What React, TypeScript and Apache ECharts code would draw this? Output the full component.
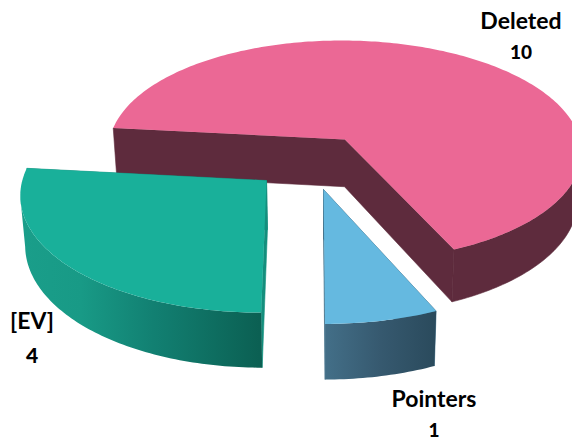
import React, { useEffect, useRef } from "react";
import * as echarts from "echarts";

const categories = ["Deleted", "Pointers", "[EV]"];
const values = [10, 1, 4];

// Styling and layout, indexed in category order
const topColors = ["#EB6895", "#65B9E0", "#19B09A"];
const innerColors = ["#5E2B3D", "#3F6F88", "#148F7D"];
const wallStops: [number, string][][] = [
  [[0, "#5E2B3D"], [1, "#5E2B3D"]],
  [[0, "#436F88"], [0.5, "#36596F"], [1, "#2A4A5C"]],
  [[0, "#1A9E8A"], [0.25, "#189A86"], [0.55, "#128072"], [1, "#0B5F52"]],
];
const labelAnchors = [
  { x: 521, y: 20, vy: 51 },
  { x: 434, y: 398, vy: 429 },
  { x: 32, y: 320, vy: 354 },
];

// Projection of the tilted pie plane on the page
const START_DEG = 276;
const CX = 311, CY = 161.5, F = 240, G = 113.8, P = 0.106;
const EXPLODE = 0.245, DEPTH = 48.3, VX = 325, VK = 0.016;
const FONT = "Lato, 'Open Sans', sans-serif";

type Pt = [number, number];

function project(px: number, py: number, z: number): Pt {
  const s = 1 / (1 + P * py);
  const x = CX + F * px * s;
  const y = CY - G * py * s + DEPTH * s * z;
  return [x + (VX - x) * VK * z, y];
}

function renderSlice(params: any, api: any) {
  const i = params.dataIndex;
  const total = values.reduce((a, b) => a + b, 0);
  const before = values.slice(0, i).reduce((a, b) => a + b, 0);
  const value = api.value(0);
  const a0 = START_DEG + (before / total) * 360;
  const a1 = a0 + (value / total) * 360;
  const mid = (((a0 + a1) / 2) * Math.PI) / 180;
  const ox = Math.sin(mid) * EXPLODE;
  const oy = Math.cos(mid) * EXPLODE;

  const rim = (deg: number, z: number): Pt => {
    const t = (deg * Math.PI) / 180;
    return project(ox + Math.sin(t), oy + Math.cos(t), z);
  };
  const steps = Math.max(12, Math.round(a1 - a0));
  const angles = Array.from({ length: steps + 1 }, (_, k) => a0 + ((a1 - a0) * k) / steps);
  const topArc = angles.map((a) => rim(a, 0));
  const bottomArc = angles.map((a) => rim(a, 1));

  // Outer wall: only the part of the rim that faces the viewer (x falls as the angle grows)
  const visible = angles
    .map((_, k) => k)
    .filter((k) => {
      const prev = topArc[Math.max(0, k - 1)];
      const next = topArc[Math.min(steps, k + 1)];
      return next[0] - prev[0] <= 0;
    });
  const wallPoints = [
    ...visible.map((k) => topArc[k]),
    ...visible.slice().reverse().map((k) => bottomArc[k]),
  ];

  const apexTop = project(ox, oy, 0);
  const apexBottom = project(ox, oy, 1);

  const anchor = labelAnchors[i];
  const flatWall = wallStops[i][0][1] === wallStops[i][wallStops[i].length - 1][1];
  const innerStyle = { fill: innerColors[i], stroke: innerColors[i], lineWidth: 0.6 };
  const innerFaces = flatWall
    ? [
        {
          type: "polygon",
          shape: {
            points: [topArc[0], apexTop, topArc[steps], bottomArc[steps], apexBottom, bottomArc[0]],
          },
          style: innerStyle,
        },
      ]
    : [
        { type: "polygon", shape: { points: [apexTop, topArc[0], bottomArc[0], apexBottom] }, style: innerStyle },
        { type: "polygon", shape: { points: [apexTop, topArc[steps], bottomArc[steps], apexBottom] }, style: innerStyle },
      ];
  return {
    type: "group",
    children: [
      ...innerFaces,
      {
        type: "polygon",
        shape: { points: wallPoints },
        style: flatWall
          ? innerStyle
          : {
              fill: new echarts.graphic.LinearGradient(
                0, 0, 1, 0,
                wallStops[i].map(([offset, color]) => ({ offset, color }))
              ),
            },
      },
      {
        type: "polygon",
        shape: { points: [apexTop, ...topArc] },
        style: { fill: topColors[i] },
      },
      {
        type: "text",
        style: {
          text: categories[i],
          x: anchor.x,
          y: anchor.y,
          fill: "#000000",
          font: `bold 23px ${FONT}`,
          textAlign: "center",
          textVerticalAlign: "middle",
        },
      },
      {
        type: "text",
        style: {
          text: String(value),
          x: anchor.x,
          y: anchor.vy,
          fill: "#000000",
          font: `900 ${value === 4 ? 21 : 19}px ${FONT}`,
          textAlign: "center",
          textVerticalAlign: "middle",
        },
      },
    ],
  };
}

export default function App() {
  const ref = useRef<HTMLDivElement>(null);
  useEffect(() => {
    if (!ref.current) return;
    const chart = echarts.init(ref.current, undefined, { renderer: "svg" });
    chart.setOption({
      animation: false,
      backgroundColor: "#ffffff",
      series: [
        {
          type: "custom",
          coordinateSystem: "none",
          renderItem: renderSlice,
          data: categories.map((name, i) => ({ name, value: [values[i]] })),
          silent: true,
        },
      ],
    });
    return () => chart.dispose();
  }, []);
  return (
    <div
      ref={ref}
      style={{ position: "absolute", left: 0, top: 0, width: 572, height: 439, overflow: "hidden" }}
    />
  );
}
